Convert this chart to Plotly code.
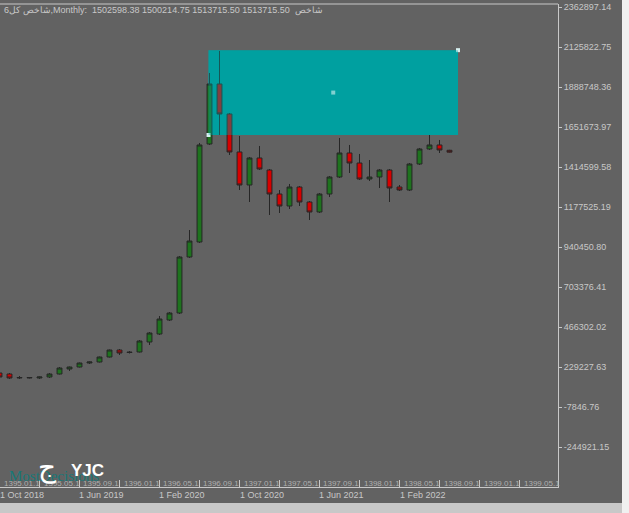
import plotly.graph_objects as go
import pandas as pd

# ---------------- data ----------------
months = [d.strftime("%b %Y") for d in pd.date_range("2018-10-01", periods=46, freq="MS")]
idx = list(range(len(months)))

open_ = [193666, 187739, 164032, 164032, 164032, 169959, 187739, 217374, 229228, 252935,
         258862, 288496, 329984, 318131, 318131, 377403, 424814, 507797, 549286, 881198,
         970103, 1550949, 1906569, 1728759, 1503533, 1307942, 1467971, 1396848, 1254599, 1183475,
         1296088, 1207183, 1147913, 1254599, 1355358, 1497606, 1438336, 1343504, 1355358, 1396848,
         1296088, 1278307, 1432409, 1521314, 1545022, 1513715.50]
high = [205520, 193666, 175886, 169959, 172922, 193666, 229228, 232191, 255899, 261825,
        291460, 332948, 335911, 324058, 389257, 436668, 531505, 555213, 887125, 1041227,
        1556876, 1971766, 2102160, 1734686, 1598365, 1473898, 1539095, 1402775, 1278307, 1314009,
        1302015, 1213110, 1260526, 1361285, 1586511, 1545022, 1491679, 1456117, 1402775, 1402775,
        1307942, 1438336, 1527241, 1604292, 1574657, 1516000]
low = [164032, 158105, 158105, 161068, 158105, 164032, 184776, 205520, 226264, 247008,
       255899, 285533, 300350, 309241, 315168, 359622, 418892, 501870, 543359, 875271,
       964176, 1545022, 1604292, 1485752, 1278307, 1207183, 1396848, 1130132, 1141986, 1165694,
       1183475, 1100497, 1141986, 1236672, 1349431, 1379066, 1337577, 1331650, 1290161, 1207183,
       1272380, 1272380, 1426482, 1515387, 1497606, 1500214.75]
close = [169959, 164032, 166996, 166996, 169959, 187739, 223301, 229228, 252935, 258862,
         288496, 329984, 312204, 315168, 383330, 430741, 513724, 549286, 881198, 976030,
         1545022, 1906569, 1728759, 1503533, 1307942, 1467971, 1402775, 1254599, 1183475, 1296088,
         1207183, 1147913, 1254599, 1355358, 1497606, 1438336, 1343504, 1355358, 1396848, 1290161,
         1278307, 1432409, 1521314, 1545022, 1515387, 1502598.38]

y_tick_vals = [2362897.14, 2125822.75, 1888748.36, 1651673.97, 1414599.58, 1177525.19,
               940450.80, 703376.41, 466302.02, 229227.63, -7846.76, -244921.15]
y_tick_text = ["2362897.14", "2125822.75", "1888748.36", "1651673.97", "1414599.58", "1177525.19",
               "940450.80", "703376.41", "466302.02", "229227.63", "-7846.76", "-244921.15"]

shamsi_labels = ["1395.01.1", "1395.05.1", "1395.09.1", "1396.01.1", "1396.05.1", "1396.09.1",
                 "1397.01.1", "1397.05.1", "1397.09.1", "1398.01.1", "1398.05.1", "1398.09.1",
                 "1399.01.1", "1399.05.1"]
shamsi_pos = [0, 4, 8, 12, 16, 20, 24, 28, 32, 36, 40, 44, 48, 52]
greg_labels = ["1 Oct 2018", "1 Jun 2019", "1 Feb 2020", "1 Oct 2020", "1 Jun 2021", "1 Feb 2022"]
greg_pos = [0, 8, 16, 24, 32, 40]

# rectangle object on the chart (time index / price levels)
RECT_T0, RECT_T1 = 20.9, 45.85
RECT_P_LOW, RECT_P_HIGH = 1604292, 2107087

title_text = "شاخص کل6,Monthly:  1502598.38 1500214.75 1513715.50 1513715.50  شاخص"

# ---------------- styling ----------------
BG = "rgb(98,98,98)"
FG = "rgb(200,200,200)"
CYAN = "rgb(0,160,160)"
W, H = 629, 513
PL, PR, PT, PB = 0, 558, 4, 487   # plot area in pixels
PW, PH = PR - PL, PB - PT

Y_MIN, Y_MAX = -481996, 2380678
X_MIN, X_MAX = 0.05, 55.85


def px(x):
    return (x - PL) / PW


def py(y):
    return (PB - y) / PH


def xpaper(i):
    # position of a bar index in paper coordinates (through the x range)
    return (i - X_MIN) / (X_MAX - X_MIN)


fig = go.Figure()

fig.add_trace(go.Candlestick(
    x=idx, open=open_, high=high, low=low, close=close,
    increasing=dict(fillcolor="rgb(30,115,30)", line=dict(color="rgb(38,38,38)", width=1)),
    decreasing=dict(fillcolor="rgb(215,0,0)", line=dict(color="rgb(38,38,38)", width=1)),
    whiskerwidth=0, hoverinfo="skip", showlegend=False,
))

# rectangle handles
fig.add_trace(go.Scatter(
    x=[RECT_T0, (RECT_T0 + RECT_T1) / 2, RECT_T1],
    y=[RECT_P_LOW, (RECT_P_LOW + RECT_P_HIGH) / 2, RECT_P_HIGH],
    mode="markers",
    marker=dict(symbol="square", size=4, color="rgb(215,240,240)", line=dict(width=0)),
    hoverinfo="skip", showlegend=False, cliponaxis=False,
))

shapes = [
    dict(type="rect", xref="x", yref="y", x0=RECT_T0, x1=RECT_T1, y0=RECT_P_LOW, y1=RECT_P_HIGH,
         fillcolor=CYAN, line=dict(width=0), layer="below"),
    dict(type="rect", xref="x", yref="y", x0=RECT_T0, x1=RECT_T1, y0=RECT_P_LOW, y1=RECT_P_HIGH,
         fillcolor=CYAN, opacity=0.4, line=dict(width=0), layer="above"),
    dict(type="line", xref="paper", yref="paper", x0=0, x1=1, y0=1, y1=1,
         line=dict(color=FG, width=1)),
    dict(type="rect", xref="paper", yref="paper", x0=px(0), x1=px(622), y0=py(503), y1=py(513),
         fillcolor="rgb(200,200,200)", line=dict(width=0)),
    dict(type="rect", xref="paper", yref="paper", x0=px(622), x1=px(629), y0=py(513), y1=py(0),
         fillcolor="rgb(240,240,240)", line=dict(width=0)),
]

annotations = []
annotations.append(dict(text=title_text, xref="paper", yref="paper", x=px(2), y=py(11),
                        xanchor="left", yanchor="middle", showarrow=False,
                        font=dict(family="Liberation Sans", size=9, color=FG)))
for lab, p in zip(shamsi_labels, shamsi_pos):
    annotations.append(dict(text=lab, xref="paper", yref="paper", x=xpaper(p), y=py(483.5), xshift=2,
                            xanchor="left", yanchor="middle", showarrow=False,
                            font=dict(family="Liberation Sans", size=8, color="rgb(175,175,175)")))
for lab, p in zip(greg_labels, greg_pos):
    annotations.append(dict(text=lab, xref="paper", yref="paper", x=xpaper(p), y=py(494.5), xshift=-2,
                            xanchor="left", yanchor="middle", showarrow=False,
                            font=dict(family="Liberation Sans", size=9, color=FG)))
# watermark
annotations.append(dict(text="MostDecisions", xref="paper", yref="paper", x=px(7), y=py(476),
                        xanchor="left", yanchor="middle", showarrow=False,
                        font=dict(family="Liberation Serif", size=15, color="rgb(25,120,120)")))
annotations.append(dict(text="ج", xref="paper", yref="paper", x=px(47), y=py(466),
                        xanchor="center", yanchor="middle", showarrow=False,
                        font=dict(family="Noto Sans", size=28, color="white")))
annotations.append(dict(text="<b>YJC</b>", xref="paper", yref="paper", x=px(69), y=py(470),
                        xanchor="left", yanchor="middle", showarrow=False,
                        font=dict(family="Liberation Sans", size=17, color="white")))

fig.update_layout(
    width=W, height=H,
    margin=dict(l=PL, r=W - PR, t=PT, b=H - PB, pad=0),
    paper_bgcolor=BG, plot_bgcolor=BG,
    shapes=shapes, annotations=annotations,
    showlegend=False,
    xaxis=dict(range=[X_MIN, X_MAX], rangeslider=dict(visible=False), showgrid=False,
               zeroline=False, showline=True, linecolor=FG, linewidth=1,
               tickmode="array", tickvals=shamsi_pos, ticks="inside", ticklen=7,
               tickcolor=FG, tickwidth=1, showticklabels=False, fixedrange=True),
    yaxis=dict(range=[Y_MIN, Y_MAX], side="right", showgrid=False, zeroline=False,
               showline=True, linecolor=FG, linewidth=1,
               tickmode="array", tickvals=y_tick_vals, ticktext=y_tick_text,
               ticks="outside", ticklen=3, tickcolor=FG, tickwidth=1,
               tickfont=dict(family="Liberation Sans", size=9, color=FG), fixedrange=True),
)

fig.write_html("out.html")
